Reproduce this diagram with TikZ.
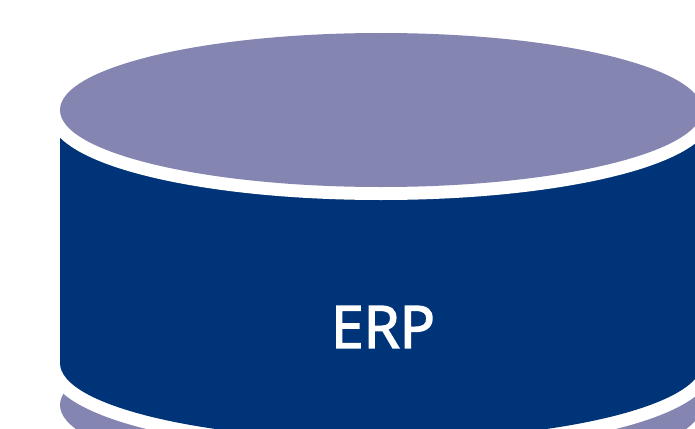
\documentclass[tikz,border=0pt]{standalone}
\usepackage{fontspec}
\setmainfont{Open Sans}
\newfontfamily\erpfont[RawFeature={embolden=2.6}]{Open Sans}
\definecolor{lav}{RGB}{133,133,177}
\definecolor{navy}{RGB}{0,52,120}
\tikzset{
  halo/.style={line width=26pt,draw=white,fill=white},
  erplabel/.style={text=white,font=\erpfont\fontsize{58.5}{60}\selectfont,inner sep=0pt,anchor=center}
}
\begin{document}
\begin{tikzpicture}[x=1pt,y=-1pt]
\useasboundingbox (0,0) rectangle (695,428);
\begin{scope}
\clip (0,0) rectangle (695,428);
\fill[lav] (381,405) ellipse [x radius=321,y radius=77];
\path[halo] (381,363) ellipse [x radius=321,y radius=77];
\fill[navy] (381,363) ellipse [x radius=321,y radius=77];
\fill[navy] (60,110) rectangle (702,363);
\path[halo] (381,110) ellipse [x radius=321,y radius=77];
\fill[lav] (381,110) ellipse [x radius=321,y radius=77];
\end{scope}
\node[erplabel] (erp) at (383,327) {ERP};
\end{tikzpicture}
\end{document}
